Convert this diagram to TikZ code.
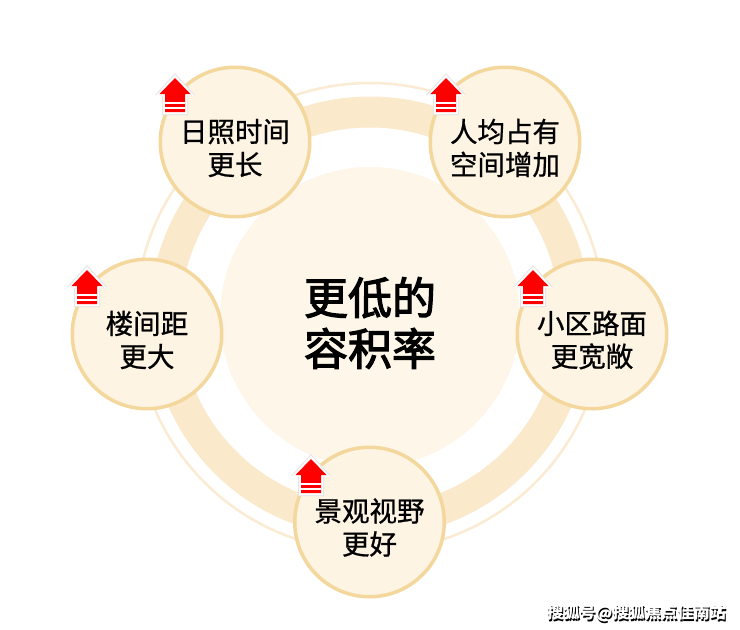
\documentclass[tikz,border=0pt]{standalone}
\usepackage{fontspec}
\setmainfont{Noto Sans CJK SC}
\newfontfamily\medf[FakeBold=0.8]{Noto Sans CJK SC}
\newfontfamily\heavyf[FakeBold=2.6]{Noto Sans CJK SC}
\definecolor{ringc}{HTML}{FBE9CC}
\definecolor{thinc}{HTML}{FBEBD3}
\definecolor{corec}{HTML}{FEF6E9}
\definecolor{discf}{HTML}{FDF4E3}
\definecolor{discd}{HTML}{F4D79C}
\tikzset{
 disc/.style={circle,draw=discd,line width=3.5pt,fill=discf,minimum size=149.5pt,inner sep=0pt},
 disclabel/.style={align=center,inner sep=0pt,font=\medf\fontsize{27.5}{33}\selectfont,text=black},
 core/.style={circle,fill=corec,minimum size=300pt,inner sep=0pt},
 corelabel/.style={align=center,inner sep=0pt,font=\heavyf\fontsize{44}{51}\selectfont,text=black},
 wm/.style={font=\fontsize{16.2}{18}\selectfont\bfseries,inner sep=0pt}
}
\newcommand{\uparrowmark}[2]{%
 \begin{scope}[shift={(#1,#2)}]
  \fill[black!10] (0,-5)--(20,17)--(13,17)--(13,37)--(-13,37)--(-13,17)--(-20,17)--cycle;
  \fill[white] (0,-3.5)--(19,17.5)--(12,17.5)--(12,36)--(-12,36)--(-12,17.5)--(-19,17.5)--cycle;
  \fill[red] (0,0)--(15.5,16)--(10,16)--(10,34)--(-10,34)--(-10,16)--(-15.5,16)--cycle;
  \fill[white] (-10,23.5)rectangle(10,25.5);
  \fill[white] (-10,28.5)rectangle(10,30.5);
 \end{scope}}
\begin{document}
\begin{tikzpicture}[x=1pt,y=-1pt]
\useasboundingbox (0,0) rectangle (740,630);
\fill[white] (0,0) rectangle (740,630);
\coordinate (c) at (370,317);
\draw[thinc,line width=2.5pt] (c) circle[radius=234];
\draw[ringc,line width=31pt] (c) circle[radius=205];
\node[core] (center) at (c) {};
\node[corelabel] (centert) at (370,323) {更低的\\容积率};
\node[disc] (a) at (235,142) {};
\node[disc] (b) at (505,142) {};
\node[disc] (e) at (147,334) {};
\node[disc] (d) at (592,334) {};
\node[disc] (f) at (369.5,522) {};
\node[disclabel] (at) at (235,148) {日照时间\\更长};
\node[disclabel] (bt) at (505,148) {人均占有\\空间增加};
\node[disclabel] (et) at (147,340) {楼间距\\更大};
\node[disclabel] (dt) at (592,340) {小区路面\\更宽敞};
\node[disclabel] (ft) at (369.5,527.5) {景观视野\\更好};
\uparrowmark{175}{78}
\uparrowmark{446}{78}
\uparrowmark{87}{270}
\uparrowmark{533}{270}
\uparrowmark{311}{459}
\node[wm,text=black] (wmb) at (637.5,615) {搜狐号@搜狐焦点佳南站};
\node[wm,text=white] (wmw) at (636.5,613.5) {搜狐号@搜狐焦点佳南站};
\end{tikzpicture}
\end{document}
